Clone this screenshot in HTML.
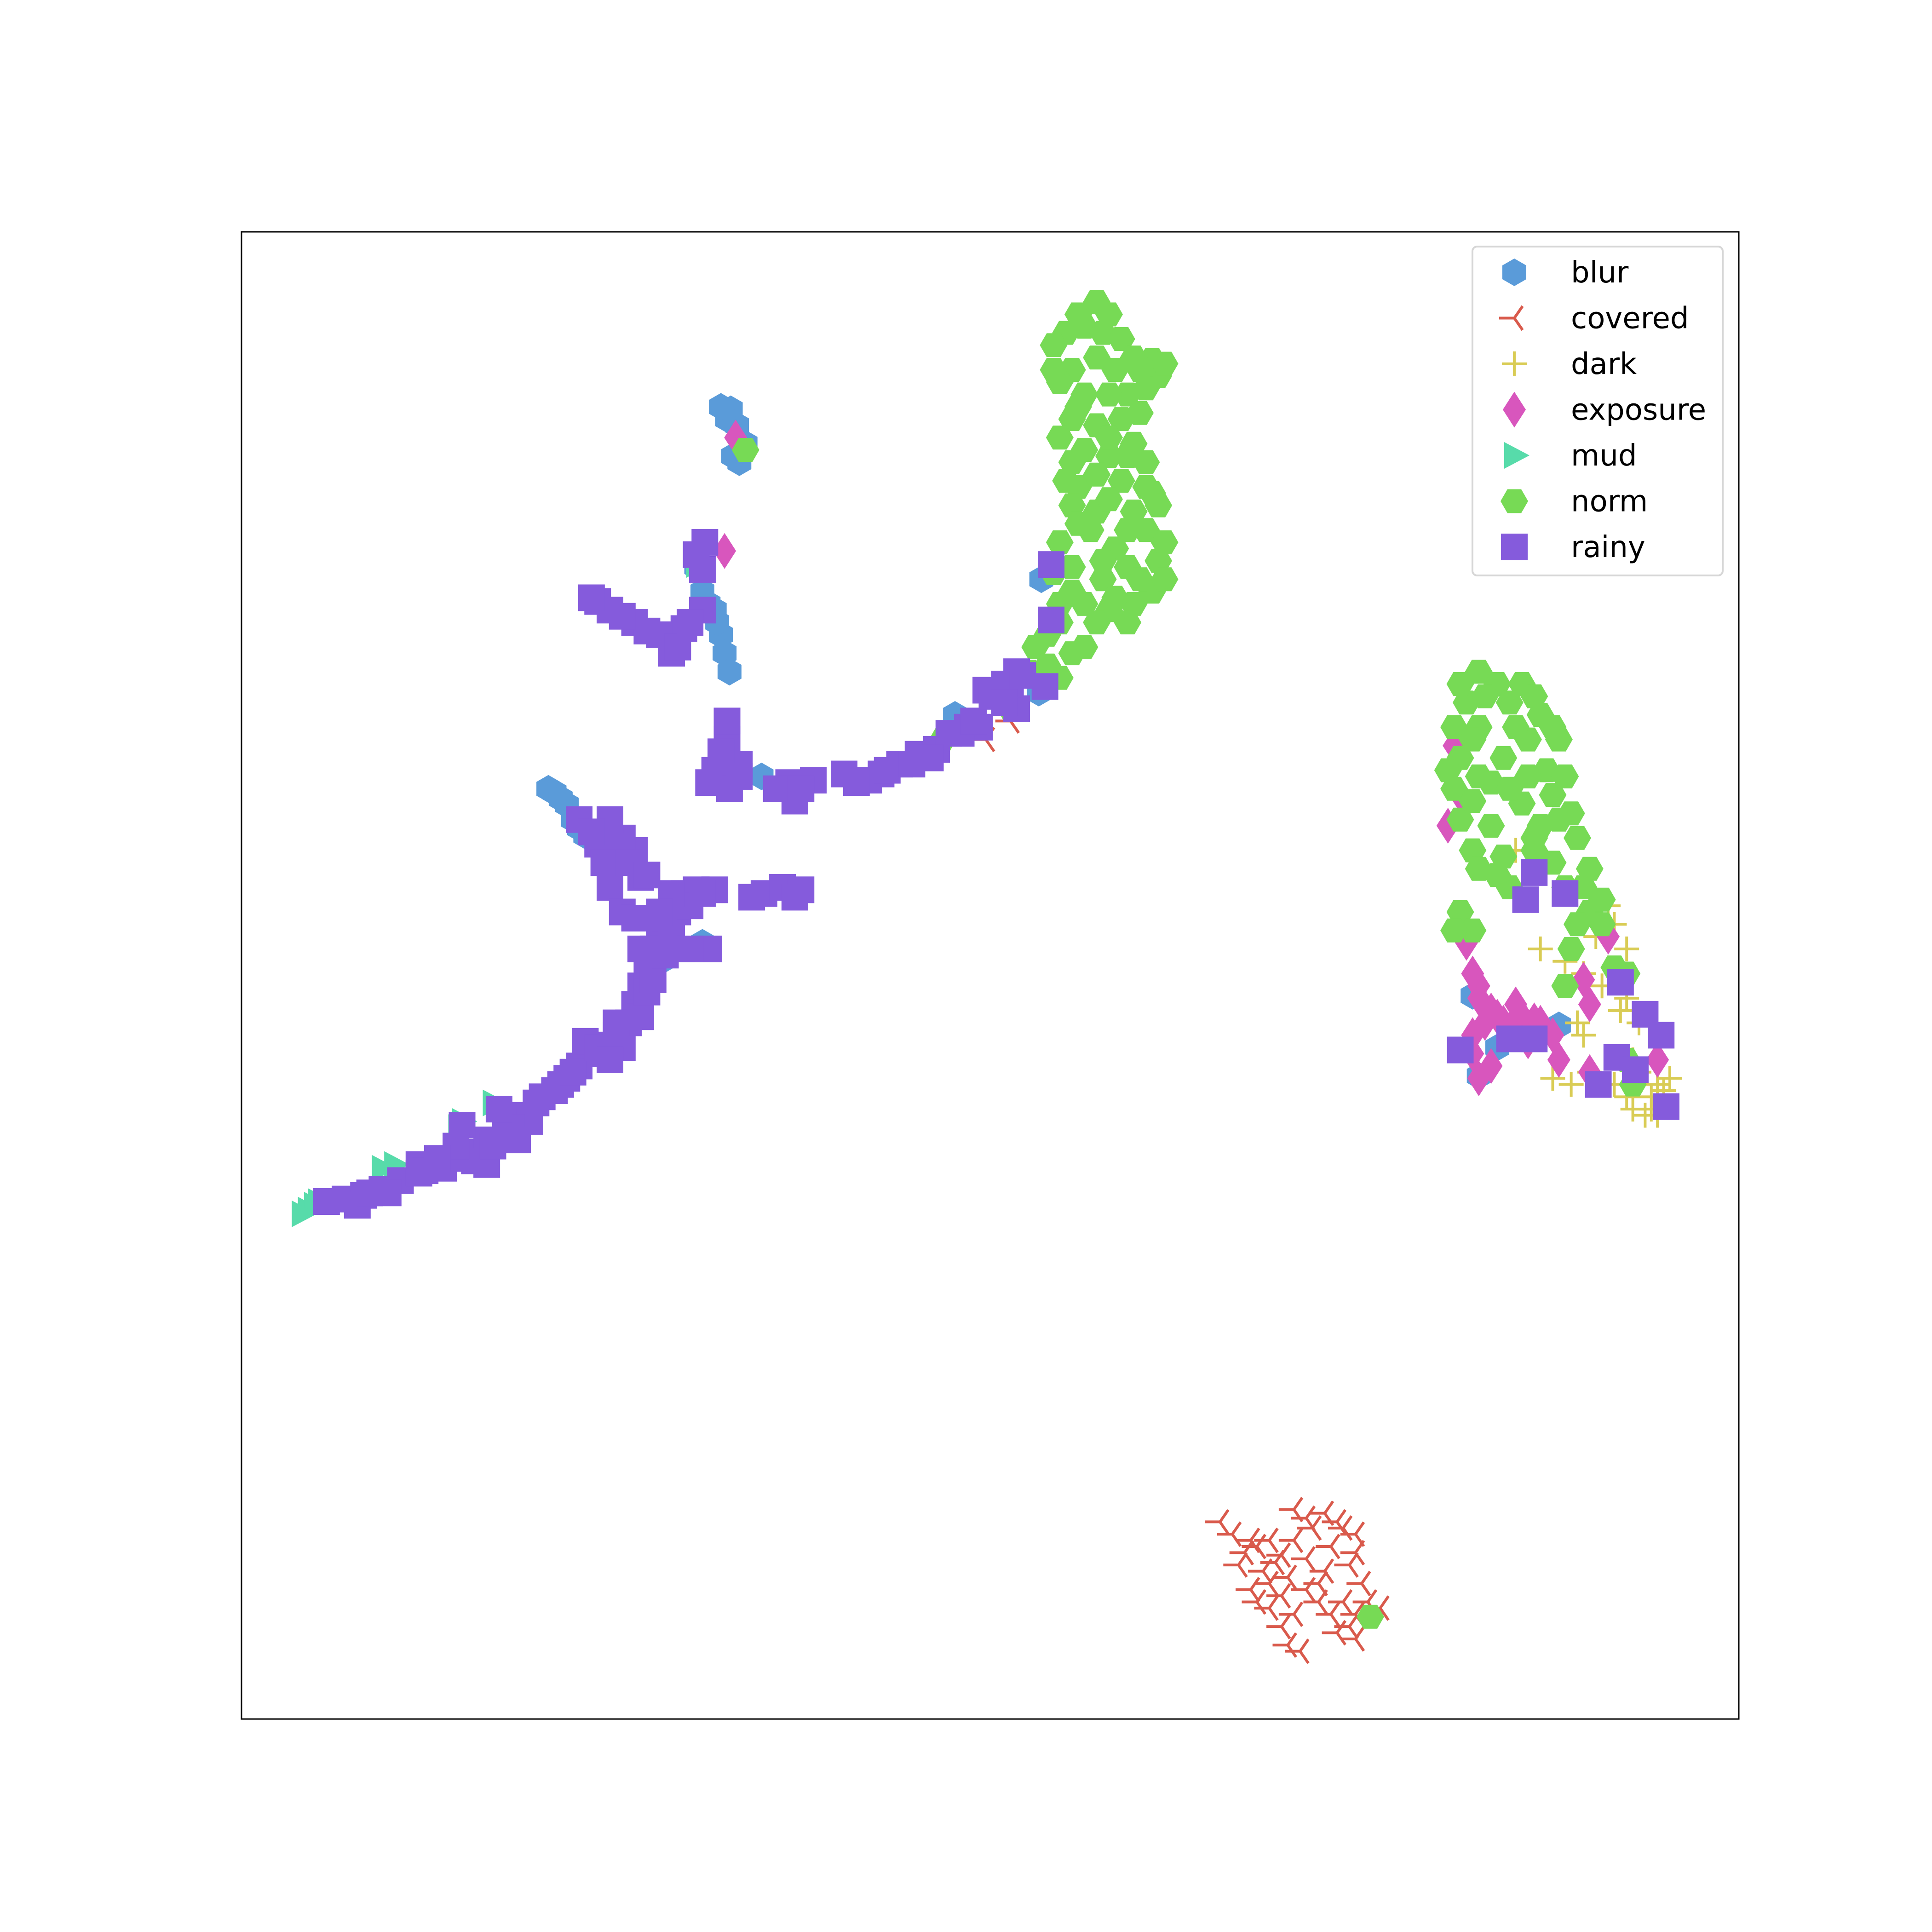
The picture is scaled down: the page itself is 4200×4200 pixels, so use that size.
<!DOCTYPE html>
<html><head><meta charset="utf-8"><style>
html,body{margin:0;padding:0;background:#fff;}
svg{display:block;}
</style></head><body>
<svg id="chart" width="4200" height="4200" xmlns="http://www.w3.org/2000/svg">
<rect x="0" y="0" width="4200" height="4200" fill="#fff"/>
<g id="marks"></g>
<rect x="525" y="504" width="3255" height="3233" fill="none" stroke="#000" stroke-width="3"/>
<g id="legend">
<rect x="3201" y="536" width="544" height="715" rx="10" fill="#fff" fill-opacity="0.8" stroke="#d6d6d6" stroke-width="4"/>
</g>
</svg>
<script>
// Embedding coordinates (arbitrary t-SNE units)
const blurX=[593,598,605,600,590,565,570,580,585,588,592,450,460,465,475,570,540,618,775,843,845,1195,1215,1265,1200,585,595,445,455,470,575,582];
const blurY=[332,345,360,375,340,460,480,495,515,530,545,643,653,665,678,765,778,630,580,562,470,808,850,832,873,330,370,640,648,672,490,505];
const coveredX=[990,1000,1010,1020,1005,1030,1040,1050,1060,1075,1090,1100,1080,1060,1045,1030,1015,1020,1040,1060,1075,1095,1105,1110,1090,1080,1095,1040,1045,1055,1085,1120,1070,1025,800,820,1065,1085,1050,1035,1070,1100,1100,1050,1015,1030,1100];
const coveredY=[1235,1245,1260,1255,1270,1250,1262,1225,1232,1228,1240,1245,1255,1265,1280,1285,1290,1300,1295,1290,1275,1270,1285,1300,1300,1310,1320,1320,1335,1340,1325,1305,1300,1275,600,585,1240,1235,1250,1268,1285,1260,1310,1310,1250,1305,1330];
const darkX=[1250,1270,1285,1300,1320,1310,1315,1330,1285,1290,1275,1330,1345,1340,1355,1335,1320,1300,1260,1305,1230,1325,1340,1350,1330,1310,1295,1320,1280,1345,1325];
const darkY=[770,780,790,800,770,750,820,830,840,870,880,880,880,900,875,905,890,880,875,735,690,860,890,885,870,880,760,810,830,905,900];
const exposureX=[1190,1195,1200,1210,1220,1235,1250,1195,1210,1200,1265,1285,1290,1290,1345,1305,1185,1175,1180,597,588,1200,1215,1225,1245,1195,1205,1240,1260,1230];
const exposureY=[765,790,810,820,830,825,830,840,865,875,860,795,815,870,860,760,645,670,605,355,447,800,825,835,828,855,830,845,840,815];
const mudX=[250,255,265,320,375,400,565,245,258,310,372];
const mudY=[982,978,975,945,910,895,458,985,975,948,915];
const normX=[890,880,865,895,910,870,890,905,935,940,860,880,915,930,870,890,910,880,920,870,900,930,875,910,935,870,890,920,940,860,885,905,930,940,870,895,915,935,880,900,920,860,850,870,840,860,820,765,605,1112,
 855,875,900,920,945,925,855,900,925,875,900,860,915,890,865,930,900,875,915,945,895,855,925,905,945,870,890,915,860,850,835,880,
 1200,1215,1235,1190,1225,1250,1180,1200,1240,1265,1185,1220,1255,1180,1210,1260,1275,1185,1210,1235,1250,1280,1195,1220,1245,1290,1225,1270,1185,1195,1290,1300,1275,1310,1320,1270,1320,1325,
 1185,1205,1245,1260,1195,1230,1175,1200,1240,1270,1225,1195,1265,1245,1200,1215,1285,1260,1280,1300,1180];
const normY=[245,265,270,270,275,300,290,300,292,305,310,320,320,315,340,345,340,365,360,375,370,375,395,390,400,410,415,415,410,440,430,445,430,455,460,470,460,480,490,495,490,490,515,530,525,550,575,600,365,1312,
 280,255,255,290,295,300,300,320,335,330,355,355,370,385,390,395,405,425,430,440,455,465,470,485,470,480,505,505,505,540,545,525,
 545,555,555,570,570,580,590,590,600,600,615,615,625,640,635,645,660,665,670,652,670,680,690,695,690,705,720,720,740,755,740,750,770,785,790,800,860,880,
 555,565,565,590,600,590,625,630,630,630,640,650,665,680,705,710,720,700,750,730,755];
const rainyX=[280,295,310,325,340,355,370,385,395,410,420,435,450,460,470,480,490,500,505,475,510,515,520,525,530,535,540,545,555,565,580,575,530,545,520,515,505,495,470,485,490,495,505,515,620,635,650,340,375,395,430,
 290,315,345,360,385,400,415,440,455,465,485,495,500,520,525,530,540,550,560,545,500,480,510,525,535,520,560,570,610,645,370,355,420,405,300,265,
 590,580,592,600,640,645,660,685,705,715,730,745,760,770,785,795,800,815,825,825,848,853,853,
 585,575,600,630,650,695,720,740,755,780,790,805,820,830,815,590,
 485,495,515,525,545,545,555,570,572,570,480,505,535,550,560,565,
 1245,1238,1270,1315,1335,1348,1185,1225,1245,1312,1297,1327,1352];
const rainyY=[973,970,965,958,952,945,940,935,925,918,905,895,885,875,865,855,848,840,850,845,830,815,800,785,770,760,745,735,725,722,722,770,770,755,712,690,680,665,665,685,700,720,740,745,725,720,722,945,913,945,910,
 978,968,950,948,942,930,915,890,880,870,850,860,830,825,805,795,775,740,735,725,700,675,700,710,740,770,770,725,728,728,930,940,925,900,968,975,
 600,625,640,620,635,650,633,628,633,628,620,612,608,595,590,590,560,555,545,575,557,503,458,
 610,635,630,640,640,635,625,620,615,595,585,565,555,548,570,585,
 488,495,505,512,520,530,510,495,440,462,485,500,515,525,505,450,
 708,730,725,797,823,840,852,843,843,858,880,868,898];

const X0=196,X1=1411,Y0=188,Y1=1395; // data domain
const PX0=525,PX1=3780,PY0=504,PY1=3737;
function xs(v){return PX0+(v-X0)*(PX1-PX0)/(X1-X0);}
function ys(v){return PY0+(v-Y0)*(PY1-PY0)/(Y1-Y0);}
const NS='http://www.w3.org/2000/svg';
function hexPts(cx,cy,w,h,pointyTop){
  let p=[];
  if(pointyTop){p=[[0,-h/2],[w/2,-h/4],[w/2,h/4],[0,h/2],[-w/2,h/4],[-w/2,-h/4]];}
  else{p=[[-w/2,0],[-w/4,-h/2],[w/4,-h/2],[w/2,0],[w/4,h/2],[-w/4,h/2]];}
  return p.map(q=>(cx+q[0]).toFixed(1)+','+(cy+q[1]).toFixed(1)).join(' ');
}
function marker(kind,cx,cy){
  let el;
  if(kind==='blur'){el=document.createElementNS(NS,'polygon');el.setAttribute('points',hexPts(cx,cy,52,60,true));el.setAttribute('fill','#5a9bd9');}
  else if(kind==='norm'){el=document.createElementNS(NS,'polygon');el.setAttribute('points',hexPts(cx,cy,60,52,false));el.setAttribute('fill','#77da55');}
  else if(kind==='rainy'){el=document.createElementNS(NS,'rect');el.setAttribute('x',cx-29);el.setAttribute('y',cy-29);el.setAttribute('width',58);el.setAttribute('height',58);el.setAttribute('fill','#855bdc');}
  else if(kind==='exposure'){el=document.createElementNS(NS,'polygon');el.setAttribute('points',`${cx},${cy-39} ${cx+25},${cy} ${cx},${cy+39} ${cx-25},${cy}`);el.setAttribute('fill','#d856bd');}
  else if(kind==='mud'){el=document.createElementNS(NS,'polygon');el.setAttribute('points',`${cx-22},${cy-29} ${cx+33},${cy} ${cx-22},${cy+29}`);el.setAttribute('fill','#57dbaa');}
  else if(kind==='dark'){el=document.createElementNS(NS,'path');el.setAttribute('d',`M${cx-27},${cy}H${cx+27}M${cx},${cy-27}V${cy+27}`);el.setAttribute('stroke','#d9cc55');el.setAttribute('stroke-width','6');el.setAttribute('fill','none');}
  else {el=document.createElementNS(NS,'path');el.setAttribute('d',`M${cx},${cy}H${cx-33}M${cx},${cy}L${cx+18},${cy-26}M${cx},${cy}L${cx+18},${cy+26}`);el.setAttribute('stroke','#d95a4c');el.setAttribute('stroke-width','6');el.setAttribute('fill','none');}
  return el;
}
const marks=document.getElementById('marks');
const series=[['blur',blurX,blurY],['covered',coveredX,coveredY],['dark',darkX,darkY],['exposure',exposureX,exposureY],['mud',mudX,mudY],['norm',normX,normY],['rainy',rainyX,rainyY]];
series.forEach(s=>{
  const g=document.createElementNS(NS,'g');
  
  
  for(let i=0;i<s[1].length;i++){
    const m=marker(s[0],xs(s[1][i]),ys(s[2][i]));
    
    
    g.appendChild(m);
  }
  marks.appendChild(g);
});
const legend=document.getElementById('legend');
series.forEach((s,i)=>{
  const cy=592+i*99.5;
  const g=document.createElementNS(NS,'g');
  
  
  const m=marker(s[0],3292,cy);
  
  
  g.appendChild(m);
  const t=document.createElementNS(NS,'text');
  t.setAttribute('x',3415);t.setAttribute('y',cy+22);
  t.setAttribute('font-family','"DejaVu Sans","Liberation Sans",sans-serif');
  t.setAttribute('font-size','64');
  t.setAttribute('fill','#000');
  
  
  t.textContent=s[0];
  g.appendChild(t);
  legend.appendChild(g);
});
</script>
</body></html>
